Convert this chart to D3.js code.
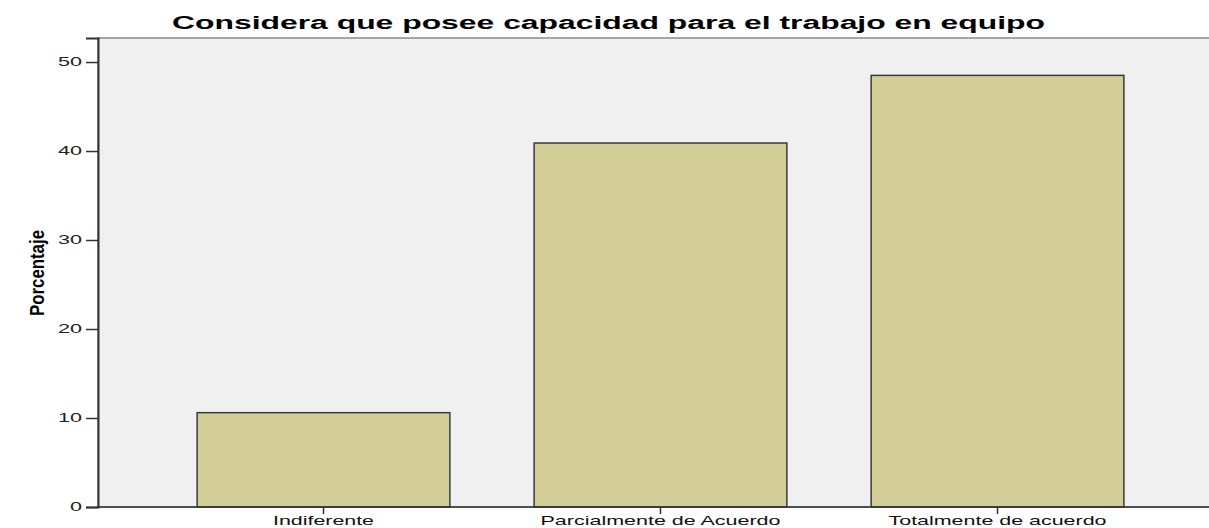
<!DOCTYPE html>
<html><head><meta charset="utf-8">
<script src="https://cdn.jsdelivr.net/npm/d3@7"></script>
<style>body{margin:0;background:#fff;} text{font-family:"Liberation Sans",Arial,sans-serif;}</style>
</head><body>
<svg id="c" width="1209" height="528"></svg>
<script>
const categories = ["Indiferente", "Parcialmente de Acuerdo", "Totalmente de acuerdo"];
const values = [10.6, 40.9, 48.5];
const yTicks = [0, 10, 20, 30, 40, 50];
const title = "Considera que posee capacidad para el trabajo en equipo";
const yLabel = "Porcentaje";

(function(){
const svg = d3.select("#c");
const mLeft = 98, mTop = 38, mBottom = 507, mRight = 1212;
const x = d3.scaleBand().domain(categories).range([155, 1166]).paddingInner(0.25).paddingOuter(0.125);
const y = d3.scaleLinear().domain([0, 52.7]).range([mBottom, mTop]);

svg.append("rect").attr("x", mLeft).attr("y", mTop).attr("width", mRight - mLeft).attr("height", mBottom - mTop)
  .attr("fill", "#f0f0f0").attr("stroke", "#8a8a8a").attr("stroke-width", 1.5);

svg.selectAll("rect.bar").data(values).join("rect").attr("class", "bar")
  .attr("x", (d, i) => x(categories[i])).attr("width", x.bandwidth())
  .attr("y", d => y(d)).attr("height", d => mBottom - y(d))
  .attr("fill", "#d3cd97").attr("stroke", "#3a3a3a").attr("stroke-width", 1.5);

const ya = svg.append("g").attr("transform", `translate(${mLeft},0)`)
  .call(d3.axisLeft(y).tickValues(yTicks).tickSize(12).tickPadding(4).tickFormat(d3.format("d")));
ya.select(".domain").attr("stroke", "#333").attr("stroke-width", 2);
ya.selectAll(".tick line").attr("stroke", "#333").attr("stroke-width", 1.5);
ya.selectAll(".tick text").attr("font-size", 12).attr("fill", "#222")
  .attr("font-family", "Liberation Sans, Arial, sans-serif")
  .attr("x", 0).attr("transform", "translate(-16,0) scale(1.8,1)");

const xa = svg.append("g").attr("transform", `translate(0,${mBottom})`)
  .call(d3.axisBottom(x).tickSize(7).tickPadding(12).tickSizeOuter(0));
xa.select(".domain").remove();
xa.append("line").attr("x1", mLeft).attr("x2", 1209).attr("stroke", "#333").attr("stroke-width", 1.5);
xa.selectAll(".tick line").attr("stroke", "#333").attr("stroke-width", 1.5);
const xLens = {"Indiferente": 101, "Parcialmente de Acuerdo": 240, "Totalmente de acuerdo": 218};
xa.selectAll(".tick text").attr("font-size", 13).attr("fill", "#111").attr("dy", null)
  .attr("y", 18).attr("font-family", "Liberation Sans, Arial, sans-serif")
  .attr("textLength", d => xLens[d]).attr("lengthAdjust", "spacingAndGlyphs");

svg.append("text").attr("x", 608.5).attr("y", 29).attr("text-anchor", "middle")
  .attr("font-size", 18).attr("font-weight", "bold").attr("fill", "#000")
  .attr("textLength", 873).attr("lengthAdjust", "spacingAndGlyphs").text(title);

svg.append("text").attr("transform", "translate(44,273) rotate(-90)").attr("text-anchor", "middle")
  .attr("font-size", 21).attr("font-weight", "bold").attr("fill", "#000")
  .attr("font-family", "'Liberation Sans Narrow','Arial Narrow',sans-serif")
  .attr("textLength", 86).attr("lengthAdjust", "spacingAndGlyphs").text(yLabel);
})();
</script>
</body></html>
